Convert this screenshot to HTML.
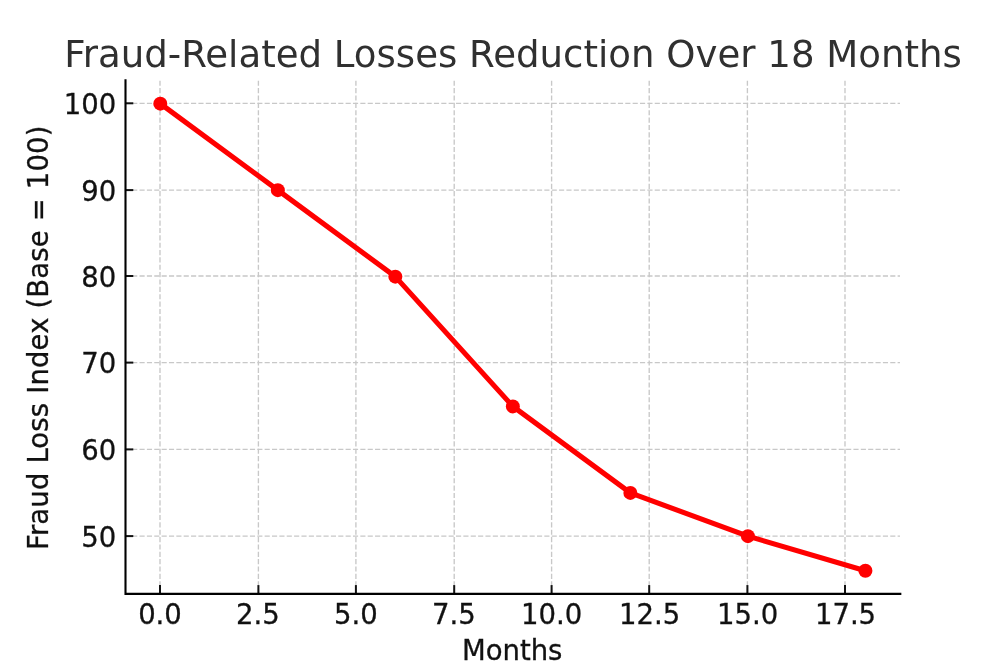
<!DOCTYPE html>
<html lang="en"><head><meta charset="utf-8"><title>Fraud-Related Losses Reduction Over 18 Months</title>
<style>
html,body{margin:0;padding:0;background:#fff;}
body{width:1000px;height:667px;overflow:hidden;}
svg{display:block;}
text{font-family:"DejaVu Sans","Liberation Sans",sans-serif;}
</style></head><body>
<svg width="1000" height="667" viewBox="0 0 1000 667">
<rect width="1000" height="667" fill="#ffffff"/>

<g stroke="#c8c8c8" stroke-width="1.35" stroke-dasharray="5.14 2.22" fill="none">
<path d="M160.0 593.7 V79.9"/>
<path d="M258.4 593.7 V79.9"/>
<path d="M355.9 593.7 V79.9"/>
<path d="M454.2 593.7 V79.9"/>
<path d="M551.6 593.7 V79.9"/>
<path d="M649.2 593.7 V79.9"/>
<path d="M747.4 593.7 V79.9"/>
<path d="M845.0 593.7 V79.9"/>
<path d="M124.8 536.1 H900"/>
<path d="M124.8 449.4 H900"/>
<path d="M124.8 362.6 H900"/>
<path d="M124.8 276.0 H900"/>
<path d="M124.8 190.1 H900"/>
<path d="M124.8 103.3 H900"/>
</g>
<path d="M160.30 103.65 L277.82 190.15 L395.33 276.65 L512.85 406.40 L630.36 492.90 L747.88 536.15 L865.40 570.75" fill="none" stroke="#ff0000" stroke-width="5.1" stroke-linejoin="round" stroke-linecap="square"/>
<circle cx="160.30" cy="103.65" r="7.0" fill="#ff0000"/>
<circle cx="277.82" cy="190.15" r="7.0" fill="#ff0000"/>
<circle cx="395.33" cy="276.65" r="7.0" fill="#ff0000"/>
<circle cx="512.85" cy="406.40" r="7.0" fill="#ff0000"/>
<circle cx="630.36" cy="492.90" r="7.0" fill="#ff0000"/>
<circle cx="747.88" cy="536.15" r="7.0" fill="#ff0000"/>
<circle cx="865.40" cy="570.75" r="7.0" fill="#ff0000"/>
<g stroke="#111" stroke-width="2" fill="none">
<path d="M160.0 593.9 V585.1"/>
<path d="M258.4 593.9 V585.1"/>
<path d="M355.9 593.9 V585.1"/>
<path d="M454.2 593.9 V585.1"/>
<path d="M551.6 593.9 V585.1"/>
<path d="M649.2 593.9 V585.1"/>
<path d="M747.4 593.9 V585.1"/>
<path d="M845.0 593.9 V585.1"/>
<path d="M125.5 536.1 H133.3"/>
<path d="M125.5 449.4 H133.3"/>
<path d="M125.5 362.6 H133.3"/>
<path d="M125.5 276.0 H133.3"/>
<path d="M125.5 190.1 H133.3"/>
<path d="M125.5 103.3 H133.3"/>
</g>
<path d="M125.5 80.2 V593.9 H900.3" fill="none" stroke="#000" stroke-width="2.1" stroke-linecap="square"/>
<g font-size="27.5" fill="#111" stroke="#111" stroke-width="0.3">
<text x="160.00" y="624" text-anchor="middle">0.0</text>
<text x="257.93" y="624" text-anchor="middle">2.5</text>
<text x="355.86" y="624" text-anchor="middle">5.0</text>
<text x="453.79" y="624" text-anchor="middle">7.5</text>
<text x="551.72" y="624" text-anchor="middle">10.0</text>
<text x="649.65" y="624" text-anchor="middle">12.5</text>
<text x="747.58" y="624" text-anchor="middle">15.0</text>
<text x="845.51" y="624" text-anchor="middle">17.5</text>
<text x="116.2" y="546.80" text-anchor="end">50</text>
<text x="116.2" y="460.10" text-anchor="end">60</text>
<text x="116.2" y="373.30" text-anchor="end">70</text>
<text x="116.2" y="286.70" text-anchor="end">80</text>
<text x="116.2" y="200.80" text-anchor="end">90</text>
<text x="116.2" y="114.00" text-anchor="end">100</text>
<text x="512.2" y="660" text-anchor="middle">Months</text>
<text transform="translate(48 337.75) rotate(-90)" text-anchor="middle" letter-spacing="0.14">Fraud Loss Index (Base = 100)</text>
</g>
<text transform="translate(513.0 66.6) scale(1 1.022)" font-size="37.1" fill="#303030" text-anchor="middle">Fraud-Related Losses Reduction Over 18 Months</text>
</svg>
</body></html>
